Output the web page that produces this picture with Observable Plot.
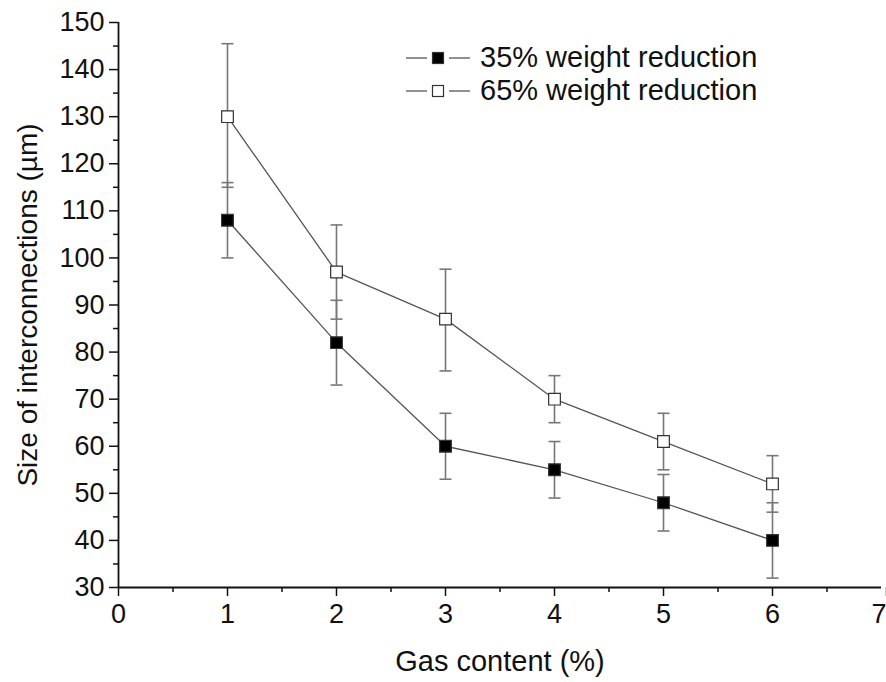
<!DOCTYPE html>
<html>
<head>
<meta charset="utf-8">
<script src="https://cdn.jsdelivr.net/npm/d3@7"></script>
<script src="https://cdn.jsdelivr.net/npm/@observablehq/plot@0.6"></script>
<style>
  html, body { margin: 0; padding: 0; background: #fff; overflow: hidden; }
  #wrap { position: relative; width: 886px; height: 682px; font-family: "Liberation Sans", Arial, sans-serif; }
  #legend { position: absolute; left: 400px; top: 41px; }
  .row { display: flex; align-items: center; height: 33px; font-size: 29px; color: #111; }
  .row svg { margin-right: 8px; }
</style>
</head>
<body>
<div id="wrap"></div>
<script>
// ---- data ----
const gasContent = [1, 2, 3, 4, 5, 6];
const seriesNames = ["35% weight reduction", "65% weight reduction"];
const size35 = [108, 82, 60, 55, 48, 40];
const low35  = [100, 73, 53, 49, 42, 32];
const high35 = [116, 91, 67, 61, 54, 48];
const size65 = [130, 97, 87, 70, 61, 52];
const low65  = [115, 87, 76, 65, 55, 46];
const high65 = [145.5, 107, 97.6, 75, 67, 58];
const xTicks = [0, 1, 2, 3, 4, 5, 6];
const xLastTick = [7];
const xMinorTicks = [0.5, 1.5, 2.5, 3.5, 4.5, 5.5, 6.5];
const yTicks = [30, 40, 50, 60, 70, 80, 90, 100, 110, 120, 130, 140, 150];
const yMinorTicks = [35, 45, 55, 65, 75, 85, 95, 105, 115, 125, 135, 145];

const rows = [];
gasContent.forEach((g, i) => {
  rows.push({series: seriesNames[0], x: g, y: size35[i], lo: low35[i], hi: high35[i]});
  rows.push({series: seriesNames[1], x: g, y: size65[i], lo: low65[i], hi: high65[i]});
});
const capSymbol = {
  draw(ctx, size) {
    const r = Math.sqrt(size / Math.PI);
    ctx.moveTo(-r, 0); ctx.lineTo(r, 0);
  }
};
const fillOf = s => s === seriesNames[0] ? "#000" : "#fff";
const axisStyle = {stroke: "#111", fill: "#111", strokeWidth: 1.5};

const plot = Plot.plot({
  width: 886,
  height: 682,
  marginLeft: 118,
  marginRight: 5,
  marginTop: 22,
  marginBottom: 95,
  style: {fontFamily: "Liberation Sans, Arial, sans-serif", fontSize: "27px", color: "#111", background: "#fff", overflow: "visible"},
  x: {domain: [0, 7]},
  y: {domain: [30, 150]},
  marks: [
    // error bars
    Plot.ruleX(rows, {x: "x", y1: "lo", y2: "hi", stroke: "#777", strokeWidth: 1.6}),
    Plot.dot(rows, {x: "x", y: "lo", symbol: capSymbol, r: 6, stroke: "#777", strokeWidth: 1.6}),
    Plot.dot(rows, {x: "x", y: "hi", symbol: capSymbol, r: 6, stroke: "#777", strokeWidth: 1.6}),
    // lines
    Plot.line(rows, {x: "x", y: "y", z: "series", stroke: "#555", strokeWidth: 1.3}),
    // markers
    Plot.dot(rows, {x: "x", y: "y", symbol: "square", r: 6.6, fill: d => fillOf(d.series), stroke: "#333", strokeWidth: 1.2}),
    // axes
    Plot.axisY({ticks: yTicks, tickSize: 9, tickPadding: 5, tickFormat: d3.format("d"), label: null, fontSize: 27, ...axisStyle}),
    Plot.axisY({ticks: yMinorTicks, tickSize: 5, tickFormat: () => "", label: null, ...axisStyle}),
    Plot.axisX({ticks: xTicks, tickSize: 9, tickPadding: 7, tickFormat: d3.format("d"), label: null, fontSize: 27, ...axisStyle}),
    Plot.axisX({ticks: xLastTick, tickSize: 9, tickPadding: 7, tickFormat: d3.format("d"), label: null, fontSize: 27, textAnchor: "end", dx: 5, ...axisStyle}),
    Plot.axisX({ticks: xMinorTicks, tickSize: 5, tickFormat: () => "", label: null, ...axisStyle}),
    Plot.ruleX([0], {stroke: "#111", strokeWidth: 1.8}),
    Plot.ruleY([30], {stroke: "#111", strokeWidth: 1.8}),
    // axis titles
    Plot.text(["Gas content (%)"], {frameAnchor: "bottom", dy: 83, fontSize: 29, fill: "#111", textAnchor: "middle"}),
    Plot.text(["Size of interconnections (µm)"], {frameAnchor: "left", dx: -90, rotate: -90, fontSize: 28, fill: "#111", textAnchor: "middle"})
  ]
});
document.getElementById("wrap").appendChild(plot);

// legend
const legend = document.createElement("div");
legend.id = "legend";
seriesNames.forEach(name => {
  const row = document.createElement("div");
  row.className = "row";
  row.innerHTML = `<svg width="72" height="20"><line x1="6" y1="10" x2="27" y2="10" stroke="#555" stroke-width="1.3"/><line x1="49" y1="10" x2="70" y2="10" stroke="#555" stroke-width="1.3"/><rect x="32.5" y="4.5" width="11" height="11" fill="${fillOf(name)}" stroke="#333" stroke-width="1.2"/></svg><span>${name}</span>`;
  legend.appendChild(row);
});
document.getElementById("wrap").appendChild(legend);
</script>
</body>
</html>
